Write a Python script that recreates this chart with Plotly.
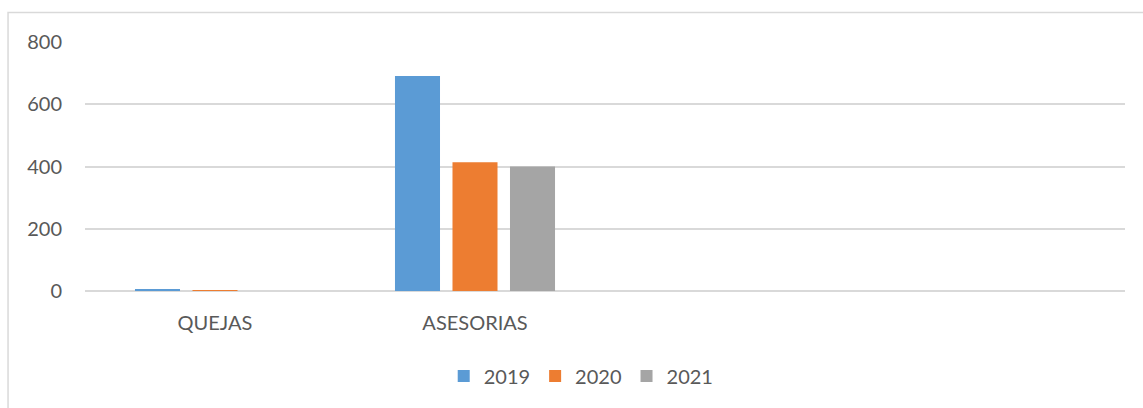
import plotly.graph_objects as go

categorias = ["QUEJAS", "ASESORIAS", " ", "  "]
anios = ["2019", "2020", "2021"]
valores_2019 = [4, 691, None, None]
valores_2020 = [1, 414, None, None]
valores_2021 = [0, 400, None, None]
colores = ["#5b9bd5", "#ed7d31", "#a5a5a5"]

series = [valores_2019, valores_2020, valores_2021]

fig = go.Figure()
for anio, vals, col in zip(anios, series, colores):
    fig.add_trace(go.Bar(x=categorias, y=vals, name=anio, marker_color=col,
                         marker_line_width=0))

gris = "#595959"
fig.update_layout(
    width=1143, height=408,
    margin=dict(l=85, r=18, t=42, b=117),
    paper_bgcolor="white", plot_bgcolor="white",
    font=dict(family="Lato", size=20, color=gris),
    barmode="group", bargap=0.3365, bargroupgap=0.217,
    showlegend=True,
    legend=dict(orientation="h", xref="container", x=0.5085, xanchor="center",
                yref="container", y=0.0784, yanchor="middle",
                font=dict(size=20, color=gris), itemwidth=30, tracegroupgap=0),
    shapes=[dict(type="rect", xref="paper", yref="paper",
                 x0=-0.074, x1=1.5, y0=-2, y1=1.118,
                 line=dict(color="#d9d9d9", width=1.5), layer="below")],
)
fig.update_yaxes(range=[0, 800], dtick=200, showgrid=True, gridcolor="#d9d9d9",
                 gridwidth=1.5, zeroline=True, zerolinecolor="#d9d9d9",
                 zerolinewidth=1.5, showline=False, ticks="",
                 ticklabelstandoff=22, tickfont=dict(size=20, color=gris))
fig.update_xaxes(showgrid=False, showline=False, ticks="",
                 ticklabelstandoff=18, tickfont=dict(size=20, color=gris))

# quitar el margen del body para que la figura quede en 0,0
fig.write_html("out.html", config={"displayModeBar": False},
               post_script="document.body.style.margin='0';document.body.style.overflow='hidden';")
